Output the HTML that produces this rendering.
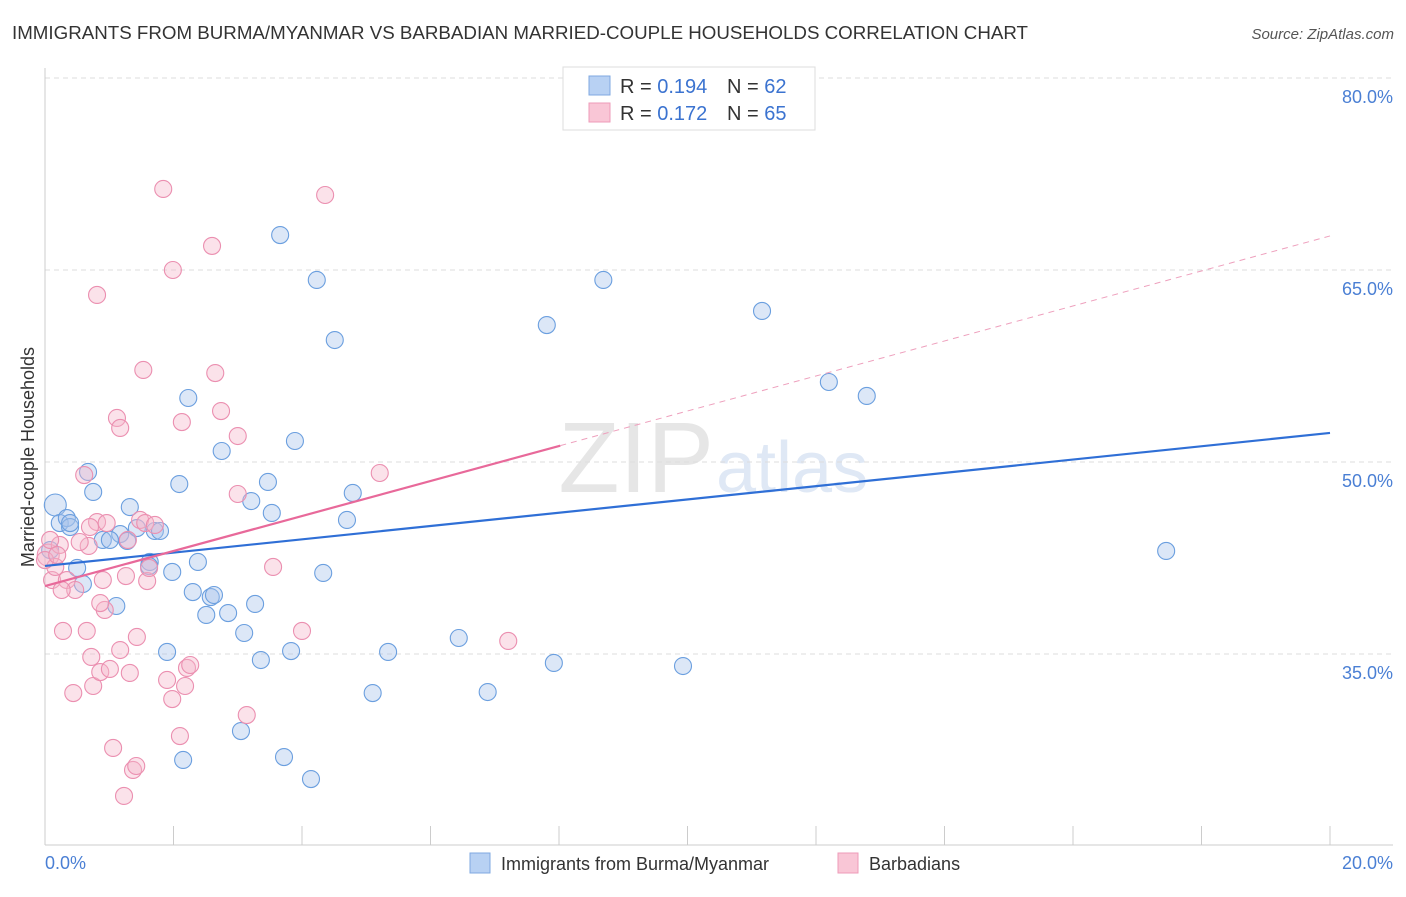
<!DOCTYPE html>
<html><head><meta charset="utf-8"><style>
body{margin:0;background:#fff;font-family:"Liberation Sans",sans-serif;}
svg text{font-family:"Liberation Sans",sans-serif;}
</style></head><body>
<svg id="chart" width="1406" height="892" xmlns="http://www.w3.org/2000/svg">
<text x="12" y="39" font-size="18" fill="#333" textLength="1016" lengthAdjust="spacingAndGlyphs">IMMIGRANTS FROM BURMA/MYANMAR VS BARBADIAN MARRIED-COUPLE HOUSEHOLDS CORRELATION CHART</text>
<text x="1394" y="39" font-size="15" fill="#555" text-anchor="end" font-style="italic">Source: ZipAtlas.com</text>
<text x="714" y="492" font-size="100" fill="#e6e6e6" text-anchor="end" font-family="Liberation Serif">ZIP</text>
<text x="716" y="492" font-size="72" fill="#dfe8f5">atlas</text>
<g id="grid"></g><g id="axes"></g><g id="pts"></g><g id="lines"></g>
<text transform="translate(34,457) rotate(-90)" font-size="18" fill="#333" text-anchor="middle">Married-couple Households</text>
<text x="45" y="869" font-size="18" fill="#4a7fd4">0.0%</text>
<text x="1393" y="869" font-size="18" fill="#4a7fd4" text-anchor="end">20.0%</text>
<g>
<rect x="563" y="67" width="252" height="63" fill="#fff" stroke="#ddd"/>
<rect x="589" y="76" width="21" height="19" fill="#b8d1f3" stroke="#7fa8e0"/>
<rect x="589" y="103" width="21" height="19" fill="#f9c6d6" stroke="#ee9bb8"/>
<text x="620" y="93" font-size="20" fill="#333">R = <tspan fill="#3b73d0">0.194</tspan></text>
<text x="727" y="93" font-size="20" fill="#333">N = <tspan fill="#3b73d0">62</tspan></text>
<text x="620" y="120" font-size="20" fill="#333">R = <tspan fill="#3b73d0">0.172</tspan></text>
<text x="727" y="120" font-size="20" fill="#333">N = <tspan fill="#3b73d0">65</tspan></text>
</g>
<g>
<rect x="470" y="853" width="20" height="20" fill="#b8d1f3" stroke="#7fa8e0"/>
<text x="501" y="870" font-size="18" fill="#333">Immigrants from Burma/Myanmar</text>
<rect x="838" y="853" width="20" height="20" fill="#f9c6d6" stroke="#ee9bb8"/>
<text x="869" y="870" font-size="18" fill="#333">Barbadians</text>
</g>
</svg>
<script>
const yTicks=[35,50,65,80];
const yTickLabels=["35.0%","50.0%","65.0%","80.0%"];
const blueX=[.16,.23,.34,.39,.50,.59,.67,.75,.90,1.11,1.17,1.28,1.32,1.43,1.63,1.71,1.79,1.90,1.98,2.09,2.15,2.23,2.30,2.38,2.51,2.58,2.63,2.75,2.85,3.05,3.10,3.21,3.27,3.36,3.47,3.53,3.66,3.72,3.83,3.89,4.14,4.23,4.33,4.51,4.70,4.79,5.10,5.34,6.44,6.89,7.81,7.92,8.69,9.93,11.16,12.20,12.79,17.45,.08,1.01,1.62,.39];
const blueY=[46.64,45.23,45.62,44.92,41.72,40.47,49.22,47.66,43.91,38.75,44.37,43.83,46.48,44.84,42.19,44.61,44.61,35.16,41.41,48.28,26.72,55.0,39.84,42.19,38.05,39.45,39.61,50.86,38.2,28.98,36.64,46.95,38.91,34.53,48.44,46.02,67.73,26.95,35.23,51.64,25.23,64.22,41.33,59.53,45.47,47.58,31.95,35.16,36.25,32.03,60.7,34.3,64.22,34.06,61.8,56.25,55.16,43.05,43.12,43.91,41.87,45.23];
const pinkX=[.05,.11,.16,.23,.28,.34,.44,.47,.61,.65,.68,.72,.75,.81,.81,.86,.90,.93,.96,1.01,1.06,1.12,1.17,1.17,1.23,1.26,1.29,1.32,1.37,1.42,1.43,1.48,1.53,1.56,1.59,1.62,1.84,1.90,1.98,1.99,2.10,2.13,2.18,2.21,2.26,2.60,2.65,2.74,3.0,3.0,3.14,3.55,4.0,4.36,5.21,7.21,.08,0,.54,.26,.86,.19,.70,1.71];
const pinkY=[42.73,40.78,41.8,43.52,36.8,40.78,31.95,40,48.98,36.8,43.44,34.77,32.5,45.31,63.05,33.59,40.78,38.44,45.23,33.83,27.66,53.44,52.66,35.31,23.91,41.09,43.91,33.52,25.94,26.25,36.33,45.47,57.19,45.23,40.7,41.72,71.33,32.97,31.48,65,28.59,53.12,32.5,33.91,34.14,66.88,56.95,53.98,52.03,47.5,30.23,41.8,36.8,70.86,49.14,36.02,43.91,42.34,43.75,40,38.98,42.73,44.92,45.08];
const blueTrend=[41.88,52.27];
const pinkTrend=[40.31,67.66];
const pinkSolidEnd=[8.02];
const NS="http://www.w3.org/2000/svg";
const X=v=>45+v/20*1285, Y=v=>78+(80-v)/15*192;
function mk(t,a,p){const e=document.createElementNS(NS,t);for(const k in a)e.setAttribute(k,a[k]);p.appendChild(e);return e;}
const grid=document.getElementById('grid'),axes=document.getElementById('axes'),pts=document.getElementById('pts'),lines=document.getElementById('lines');
yTicks.forEach((t,i)=>{
 const l=mk('line',{x1:45,x2:1393,y1:Y(t),y2:Y(t),stroke:'#ddd','stroke-dasharray':'5,4'},grid);
 
 
 const tx=mk('text',{x:1393,y:Y(t)+25,'font-size':18,fill:'#4a7fd4','text-anchor':'end'},grid);
 tx.textContent=yTickLabels[i];
 
 
});
const ax=mk('line',{x1:45,x2:1393,y1:845,y2:845,stroke:'#ccc'},axes);


const ay=mk('line',{x1:45,x2:45,y1:68,y2:845,stroke:'#ccc'},axes);


for(let i=0;i<=10;i++){const tk=mk('line',{x1:X(i*2),x2:X(i*2),y1:826,y2:845,stroke:'#ccc'},axes);
 
 }
function dots(xs,ys,fill,stroke,name){xs.forEach((x,i)=>{const c=mk('circle',{cx:X(x),cy:Y(ys[i]),r:(i===0?11:8.5),fill:fill,'fill-opacity':0.4,stroke:stroke,'stroke-width':1.1},pts);
 
 });}
dots(blueX,blueY,'#a7c4ec','#6b9fdf','burma-point');
dots(pinkX,pinkY,'#f5b7cb','#eb8fb0','barbadian-point');
const bl=mk('line',{x1:X(0),y1:Y(blueTrend[0]),x2:X(20),y2:Y(blueTrend[1]),stroke:'#2f6fd6','stroke-width':2.2},lines);


const pe=pinkTrend[0]+(pinkTrend[1]-pinkTrend[0])*pinkSolidEnd[0]/20;
const pl=mk('line',{x1:X(0),y1:Y(pinkTrend[0]),x2:X(pinkSolidEnd[0]),y2:Y(pe),stroke:'#e8699a','stroke-width':2.2},lines);


const pd=mk('line',{x1:X(pinkSolidEnd[0]),y1:Y(pe),x2:X(20),y2:Y(pinkTrend[1]),stroke:'#eea0bd','stroke-width':1,'stroke-dasharray':'6,5'},lines);


</script>
</body></html>
